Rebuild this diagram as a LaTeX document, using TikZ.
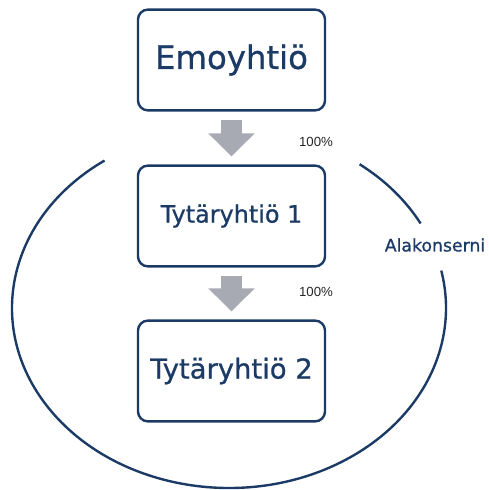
\documentclass[tikz,border=0pt]{standalone}
\usepackage{fontspec}
\setmainfont{DejaVu Sans}
\newfontfamily\boxfont{DejaVu Sans}[FakeBold=0.8]
\newfontfamily\pctfont{Liberation Sans}
\usepackage{xcolor}
\usepackage{tikz}
\usetikzlibrary{arrows.meta}

\definecolor{navy}{HTML}{1B3A66}
\definecolor{arrowgray}{HTML}{A7AAB2}

\tikzset{
    compbox/.style={draw=navy, line width=1.7pt, rounded corners=0.25cm,
        minimum width=4.675cm, minimum height=2.52cm, inner sep=0pt, text=navy},
    ownarrow/.style={draw=arrowgray, line width=0.53cm,
        -{Triangle[width=1.125cm, length=0.575cm]},
        shorten <=0.22cm, shorten >=0.2cm},
    share/.style={font=\pctfont\fontsize{9.4}{11}\selectfont, text=black!85},
    ring/.style={draw=navy, line width=1.7pt}
}

\begin{document}
\begin{tikzpicture}[x=0.025cm, y=0.025cm]
    \useasboundingbox (0,0) rectangle (488,-490);

    % Parent and subsidiary boxes
    \node[compbox, font=\boxfont\fontsize{23}{27}\selectfont] (emo) at (231.5,-60) {Emoyhtiö};
    \node[compbox, font=\boxfont\fontsize{17}{20}\selectfont] (tyt1) at (231.5,-216) {Tytäryhtiö 1};
    \node[compbox, font=\boxfont\fontsize{19.5}{23}\selectfont] (tyt2) at (231.5,-371) {Tytäryhtiö 2};

    % Ownership arrows
    \draw[ownarrow] (emo) -- (tyt1);
    \draw[ownarrow] (tyt1) -- (tyt2);

    % Ownership shares
    \node[share] (pct1) at (316,-142) {100\%};
    \node[share] (pct2) at (316,-292) {100\%};

    % Subgroup ring, open at the top and at its label
    \draw[ring] (229,-308) ++(125:217 and 180) arc[start angle=125, end angle=372, x radius=217, y radius=180];
    \draw[ring] (229,-308) ++(28:217 and 180) arc[start angle=28, end angle=53, x radius=217, y radius=180];

    % Label of the subgroup
    \node[text=navy, font=\boxfont\fontsize{12.3}{15}\selectfont] (ala) at (435,-245) {Alakonserni};
\end{tikzpicture}
\end{document}
